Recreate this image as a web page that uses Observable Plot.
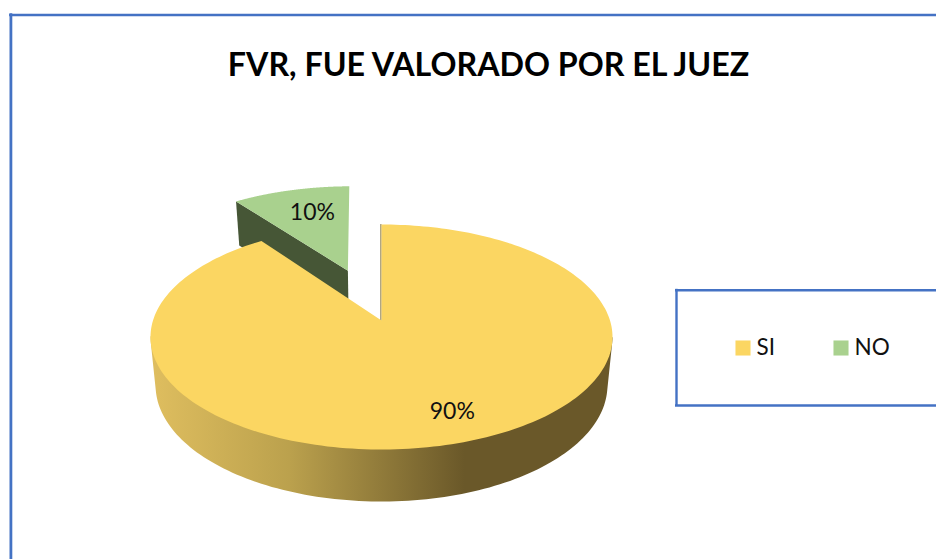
<!DOCTYPE html>
<html>
<head>
<meta charset="utf-8">
<script src="https://cdn.jsdelivr.net/npm/d3@7"></script>
<script src="https://cdn.jsdelivr.net/npm/@observablehq/plot@0.6"></script>
<style>html,body{margin:0;padding:0;background:#fff}svg{display:block}</style>
</head>
<body>
<script>
const titleText = "FVR, FUE VALORADO POR EL JUEZ";
const categories = ["SI", "NO"];
const values = [90, 10];
const labels = ["90%", "10%"];

const W = 936, H = 559;
const colors = {SI: "#fbd662", NO: "#a9d18e"};
const blue = "#4472c4";

// 3D pie camera: unit disc (u, v) -> page position, with perspective
const apex = [381, 320], R = 228.5, A = 110.08, B = 0.1467;
const project = (u, v) => {
  const w = 1 + B * v;
  return [apex[0] + R * u / w, apex[1] - A * v / w];
};
const drop = ([x, y]) => [apex[0] + 0.978 * (x - apex[0]), y + 44 + (y - 200) * 8 / 249];
const total = d3.sum(values);
let acc = 0;
const slices = categories.map((c, i) => {
  const a0 = acc / total * 2 * Math.PI;
  acc += values[i];
  const a1 = acc / total * 2 * Math.PI;
  const mid = (a0 + a1) / 2;
  const ex = c === "NO" ? 0.51 : 0;
  const tilt = c === "NO" ? -0.8 * Math.PI / 180 : 0;
  return {c, a0: a0 + tilt, a1: a1 + tilt, mid, off: [ex * Math.sin(mid), ex * Math.cos(mid)], label: labels[i]};
});
const arcPts = (s, n = 240) => d3.range(n + 1).map(k => {
  const a = s.a0 + (s.a1 - s.a0) * k / n;
  return project(s.off[0] + Math.sin(a), s.off[1] + Math.cos(a));
});
const topFace = s => [project(s.off[0], s.off[1]), ...arcPts(s)];
const [si, no] = slices;

const siTop = topFace(si), noTop = topFace(no);
const siFront = arcPts(si).filter(p => p[1] > 335);
const siWall = d3.polygonHull([...siFront, ...siFront.map(drop)]);
const noCorner = project(no.off[0] + Math.sin(no.a0), no.off[1] + Math.cos(no.a0));
const noApex = project(no.off[0], no.off[1]);
const noWall = [noCorner, noApex, drop(noApex), drop(noCorner)];
const siEdge = [project(0, 0), project(Math.sin(si.a0), Math.cos(si.a0))];

const labelPos = (s, r, dx, dy) => {
  const p = project(s.off[0] + r * Math.sin(s.mid), s.off[1] + r * Math.cos(s.mid));
  return {x: p[0] + dx, y: p[1] + dy, t: s.label};
};
const pieLabels = [labelPos(si, 0.78, 9, -1), labelPos(no, 0.72, 5, 2)];
const legendRows = [
  {c: "SI", sx: 742.5, tx: 756},
  {c: "NO", sx: 840.5, tx: 854}
];
const fontFamily = "Lato, Carlito, Calibri, sans-serif";

const gradient = () => {
  const d = d3.create("svg:defs");
  const g = d.append("linearGradient").attr("id", "wall").attr("x1", 0).attr("x2", 1).attr("y1", 0).attr("y2", 0);
  [[0, "#dfbe5f"], [0.3, "#bba14d"], [0.68, "#6a5829"], [1, "#6a5829"]].forEach(([o, c]) =>
    g.append("stop").attr("offset", o).attr("stop-color", c));
  return d.node();
};
const poly = (pts, fill, extra = {}) =>
  Plot.line(pts, {x: d => d[0], y: d => d[1], fill, stroke: "none", curve: "linear-closed", ...extra});

const chart = Plot.plot({
  width: W, height: H, margin: 0,
  x: {domain: [0, W], range: [0, W], axis: null},
  y: {domain: [0, H], range: [0, H], axis: null},
  style: {background: "#fff", fontFamily},
  marks: [
    gradient,
    // chart and legend frames
    Plot.ruleX([10.4], {y1: 13.2, y2: H, stroke: blue, strokeWidth: 2.8}),
    Plot.ruleY([14.5], {x1: 9.1, x2: W, stroke: blue, strokeWidth: 2.6}),
    Plot.ruleX([676], {y1: 288.8, y2: 406, stroke: blue, strokeWidth: 2.4}),
    Plot.ruleY([289.8], {x1: 675, x2: W, stroke: blue, strokeWidth: 2.4}),
    Plot.ruleY([405], {x1: 675, x2: W, stroke: blue, strokeWidth: 2.4}),
    // exploded slice
    poly(noWall, "#465636"),
    poly(noTop, colors.NO),
    // main slice
    poly(siWall, "url(#wall)"),
    Plot.line(siEdge, {x: d => d[0] - 0.6, y: d => d[1], stroke: "#8f8050", strokeWidth: 1.2}),
    poly(siTop, colors.SI),
    // value labels
    Plot.text(pieLabels, {x: "x", y: "y", text: "t", fontSize: 23, fill: "#111", textAnchor: "middle", lineAnchor: "middle"}),
    // title
    Plot.text([titleText], {x: 488, y: 65, fontSize: 32.2, fontWeight: 700, fill: "#000", textAnchor: "middle", lineAnchor: "middle"}),
    // legend
    Plot.dot(legendRows, {x: "sx", y: 347.5, symbol: "square", r: 8.5, fill: d => colors[d.c], stroke: "none"}),
    Plot.text(legendRows, {x: "tx", y: 347.5, text: "c", fontSize: 22.5, fill: "#111", textAnchor: "start", lineAnchor: "middle"})
  ]
});
document.body.appendChild(chart);
</script>
</body>
</html>
